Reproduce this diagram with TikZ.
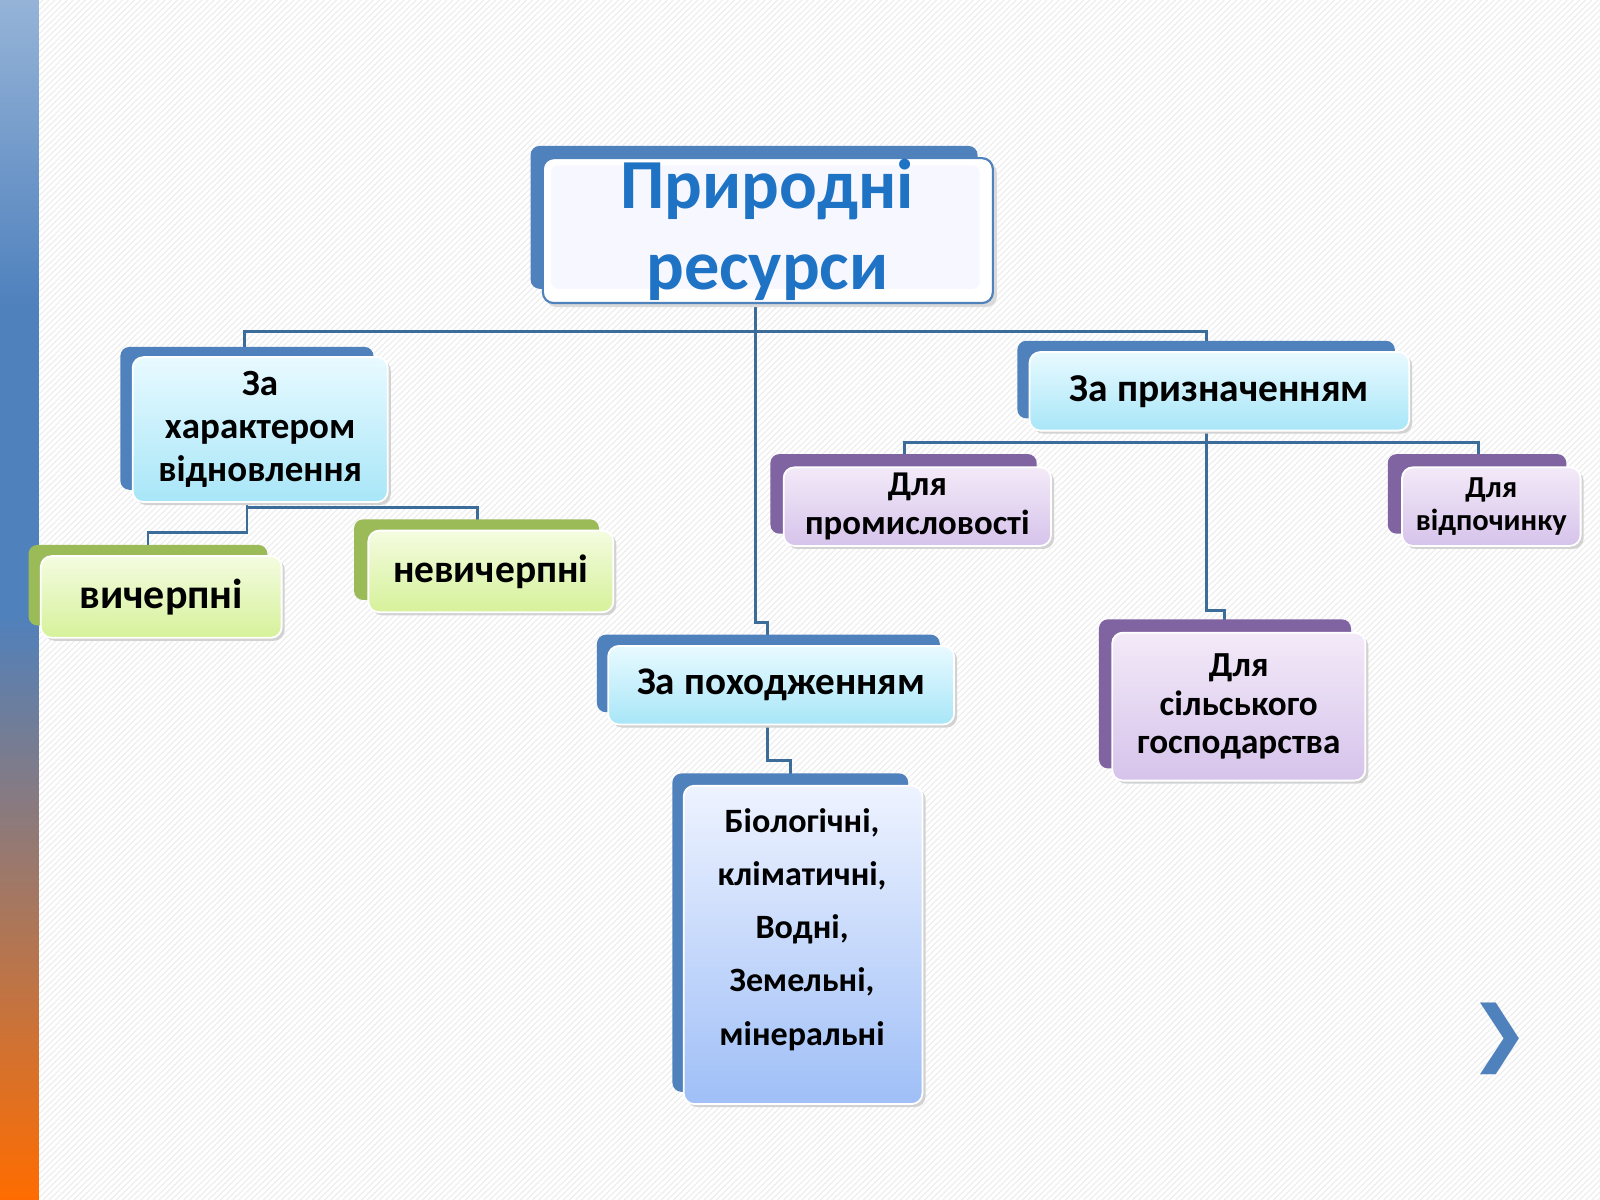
\documentclass[tikz,border=0pt]{standalone}
\usepackage{fontspec}
\setmainfont{Carlito}
\begin{document}
\begin{tikzpicture}[x=0.01cm,y=-0.01cm,
  back/.style={rounded corners=2.5pt},
  txt/.style={align=center, text=black}]
\definecolor{bk}{HTML}{4F81BD}
\definecolor{ln}{HTML}{3B6C9A}
\definecolor{ttl}{HTML}{1F73C4}
\definecolor{cyt}{HTML}{E8FAFF}\definecolor{cyb}{HTML}{A8E6F8}
\definecolor{gt}{HTML}{F4FCE0}\definecolor{gb}{HTML}{D6F19A}\definecolor{gk}{HTML}{9BBB59}
\definecolor{pt}{HTML}{F3EAF8}\definecolor{pb}{HTML}{D6C3EB}\definecolor{pk}{HTML}{8064A2}
\definecolor{bt}{HTML}{EEF3FF}\definecolor{bb}{HTML}{9FBFF7}
\tikzset{conn/.style={ln, line width=0.8pt}}
\useasboundingbox (0,0) rectangle (1568,1176);
\fill[white] (0,0) rectangle (1568,1176);
\foreach \i in {0,6,...,2800} {\draw[gray!14, line width=0.3pt] (\i,0) -- (\i-1200,1176);}
\shade[top color=bk!60!white, bottom color=bk] (0,0) rectangle (38,300);
\fill[bk] (0,299) rectangle (38,601);
\shade[top color=bk, bottom color=orange!85!red] (0,600) rectangle (38,1176);
% connectors
\draw[conn] (740,297) -- (740,325);
\draw[conn] (240,350) -- (240,325) -- (1182,325) -- (1182,345);
\draw[conn] (740,325) -- (740,610) -- (752,610) -- (752,633);
\draw[conn] (242,492) -- (242,522) -- (145,522) -- (145,545);
\draw[conn] (242,497) -- (468,497) -- (468,520);
\draw[conn] (886,458) -- (886,434) -- (1449,434) -- (1449,458);
\draw[conn] (1182,422) -- (1182,598) -- (1200,598) -- (1200,620);
\draw[conn] (752,710) -- (752,745) -- (775,745) -- (775,770);
% main
\fill[bk,back] (520,143) rectangle (958,283);
\fill[gray!30,rounded corners=3pt] (535,159) rectangle (977,301);
\fill[white,rounded corners=3pt,draw=bk,line width=0.6pt] (532,155) rectangle (973,297);
\fill[blue!3,rounded corners=2pt] (540,162) rectangle (960,283);
\node[font=\bfseries\fontsize{19.6}{22.5}\selectfont, text=ttl, align=center] (main) at (752,225) {Природні\\ресурси};
\newcommand{\bx}[9]{%
  \fill[#9,back] (#2,#3) rectangle ({#6-14},{#7-12});
  \fill[gray!35,rounded corners=3pt] (#4+3,#5+3) rectangle (#6+3,#7+3);
  \shade[top color=#8, bottom color=\bcol, rounded corners=3pt, draw=white, line width=0.5pt] (#4,#5) rectangle (#6,#7);
  \coordinate (#1) at ({(#4+#6)/2},{(#5+#7)/2});}
\def\bcol{cyb}\bx{xar}{118}{340}{130}{350}{380}{492}{cyt}{bk}
\node[txt,font=\bfseries\fontsize{10.3}{12}\selectfont] at (xar) {За\\характером\\відновлення};
\def\bcol{gb}\bx{vy}{28}{534}{40}{545}{276}{625}{gt}{gk}
\node[txt,font=\bfseries\fontsize{11.7}{13}\selectfont] at (vy) {вичерпні};
\def\bcol{gb}\bx{nevy}{347}{509}{361}{520}{601}{600}{gt}{gk}
\node[txt,font=\bfseries\fontsize{11}{13}\selectfont] at (nevy) {невичерпні};
\def\bcol{cyb}\bx{pryz}{997}{334}{1009}{345}{1381}{422}{cyt}{bk}
\node[txt,font=\bfseries\fontsize{11}{13}\selectfont] at (pryz) {За призначенням};
\def\bcol{pb}\bx{prom}{755}{445}{768}{458}{1030}{535}{pt}{pk}
\node[txt,font=\bfseries\fontsize{9.7}{10.8}\selectfont] at (prom) {Для\\промисловості};
\def\bcol{pb}\bx{vid}{1360}{445}{1374}{458}{1549}{535}{pt}{pk}
\node[txt,font=\bfseries\fontsize{8.5}{9.3}\selectfont] at (vid) {Для\\відпочинку};
\def\bcol{pb}\bx{sil}{1077}{607}{1090}{620}{1338}{765}{pt}{pk}
\node[txt,font=\bfseries\fontsize{9.8}{10.8}\selectfont] at (sil) {Для\\сільського\\господарства};
\def\bcol{cyb}\bx{pox}{585}{622}{596}{633}{935}{710}{cyt}{bk}
\node[txt,font=\bfseries\fontsize{10.9}{12}\selectfont] at (pox) {За походженням};
\def\bcol{bb}\bx{bio}{659}{758}{670}{770}{904}{1082}{bt}{bk}
\node[txt,font=\bfseries\fontsize{9.5}{14.8}\selectfont] at (786,911) {Біологічні,\\кліматичні,\\Водні,\\Земельні,\\мінеральні};
\node[font=\fontsize{20}{20}\selectfont, text=bk] (chev) at (1470,1018) {\fontspec{DejaVu Sans}❯};
\end{tikzpicture}
\end{document}
